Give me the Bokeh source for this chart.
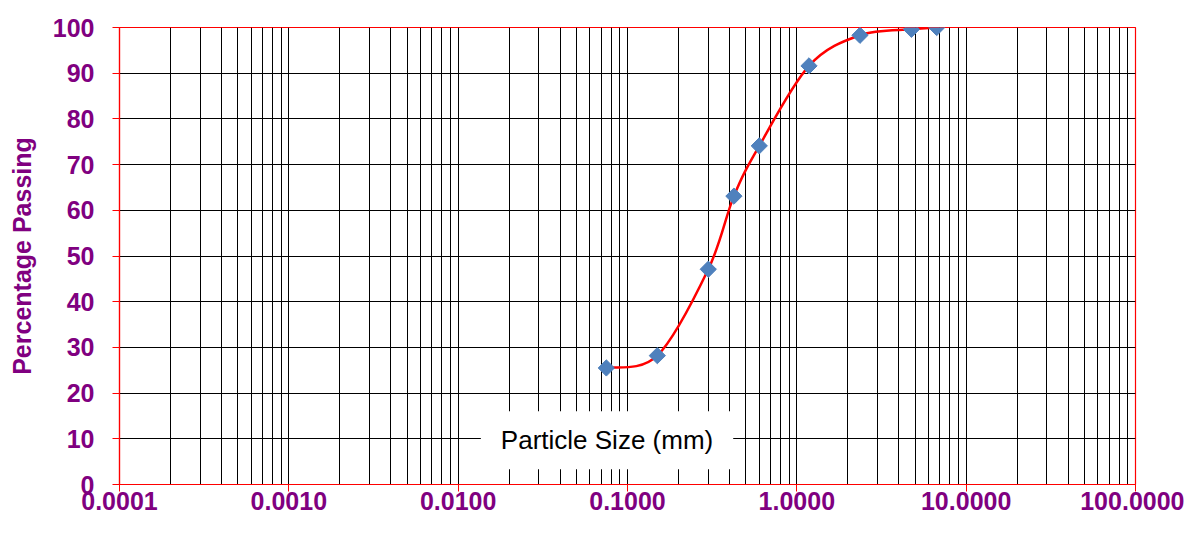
import numpy as np
from bokeh.plotting import figure
from bokeh.models import Range1d, FixedTicker, Label
from bokeh.embed import file_html
from bokeh.resources import INLINE

# ---- data ----
particle_size = [0.075, 0.15, 0.3, 0.425, 0.6, 1.18, 2.36, 4.75, 6.7]
percent_passing = [25.5, 28.2, 47.1, 63.1, 74.1, 91.6, 98.3, 99.6, 100.0]
x_ticks = [0.0001, 0.001, 0.01, 0.1, 1.0, 10.0, 100.0]
x_tick_labels = ["0.0001", "0.0010", "0.0100", "0.1000", "1.0000", "10.0000", "100.0000"]
y_ticks = [0, 10, 20, 30, 40, 50, 60, 70, 80, 90, 100]
x_title = "Particle Size (mm)"
y_title = "Percentage Passing"

PURPLE = "#800080"
FONT = "Liberation Sans"

p = figure(width=1184, height=519, x_axis_type="log",
           x_range=Range1d(x_ticks[0], x_ticks[-1]), y_range=Range1d(0, 100),
           output_backend="svg", toolbar_location=None,
           min_border_left=119, min_border_right=49, min_border_top=27, min_border_bottom=35)
p.background_fill_color = "white"
p.border_fill_color = "white"
p.outline_line_color = "red"
p.outline_line_width = 1.2

# minor grid positions within each decade
minor = [k * d for d in x_ticks[:-1] for k in range(2, 10)]
p.xaxis.ticker = FixedTicker(ticks=x_ticks, minor_ticks=minor)
p.xaxis.major_label_overrides = {t: l for t, l in zip(x_ticks, x_tick_labels)}
p.yaxis.ticker = FixedTicker(ticks=y_ticks)

for ax in (p.xaxis[0], p.yaxis[0]):
    ax.axis_line_color = "red"
    ax.axis_line_width = 1.2
    ax.major_tick_line_color = "red"
    ax.major_tick_line_width = 1
    ax.major_tick_in = 0
    ax.major_tick_out = 7
    ax.minor_tick_line_color = None
    ax.major_label_text_font = FONT
    ax.major_label_text_font_style = "bold"
    ax.major_label_text_font_size = "25px"
    ax.major_label_text_color = PURPLE

p.xaxis.major_label_standoff = 0
p.yaxis.major_label_standoff = 18
p.yaxis.axis_label = y_title
p.yaxis.axis_label_text_font = FONT
p.yaxis.axis_label_text_font_style = "bold"
p.yaxis.axis_label_text_font_size = "25px"
p.yaxis.axis_label_text_color = PURPLE
p.yaxis.axis_label_standoff = 14

p.xgrid.grid_line_color = "black"
p.xgrid.grid_line_width = 1
p.xgrid.minor_grid_line_color = "black"
p.xgrid.minor_grid_line_width = 1
p.ygrid.grid_line_color = "black"
p.ygrid.grid_line_width = 1

# ---- smoothed line (cubic Bezier through the points, drawn in screen-linear log space) ----
lx = np.log10(np.array(particle_size))
yy = np.array(percent_passing)
n = len(lx)
x0s, y0s, x1s, y1s, cx0s, cy0s, cx1s, cy1s = ([] for _ in range(8))
for i in range(n - 1):
    a = max(i - 1, 0)
    b = min(i + 2, n - 1)
    c0x = lx[i] + (lx[i + 1] - lx[a]) / 6.0
    c0y = yy[i] + (yy[i + 1] - yy[a]) / 6.0
    c1x = lx[i + 1] - (lx[b] - lx[i]) / 6.0
    c1y = yy[i + 1] - (yy[b] - yy[i]) / 6.0
    x0s.append(10 ** lx[i]); y0s.append(yy[i])
    x1s.append(10 ** lx[i + 1]); y1s.append(yy[i + 1])
    cx0s.append(10 ** c0x); cy0s.append(c0y)
    cx1s.append(10 ** c1x); cy1s.append(c1y)

p.bezier(x0=x0s, y0=y0s, x1=x1s, y1=y1s, cx0=cx0s, cy0=cy0s, cx1=cx1s, cy1=cy1s,
         line_color="#FF0000", line_width=2.5)

p.scatter(particle_size, percent_passing, marker="square", size=11.5, angle=np.pi / 4,
          fill_color="#4F81BD", line_color="#4F81BD", line_width=1)

lab = Label(x=0.0757, y=9.7, text=x_title, text_align="center", text_baseline="middle",
            text_font=FONT, text_font_size="26px", text_color="black",
            background_fill_color="white",
            padding=dict(left=20, right=20, top=14, bottom=14))
p.add_layout(lab)

open("out.html", "w").write(file_html(p, INLINE))
